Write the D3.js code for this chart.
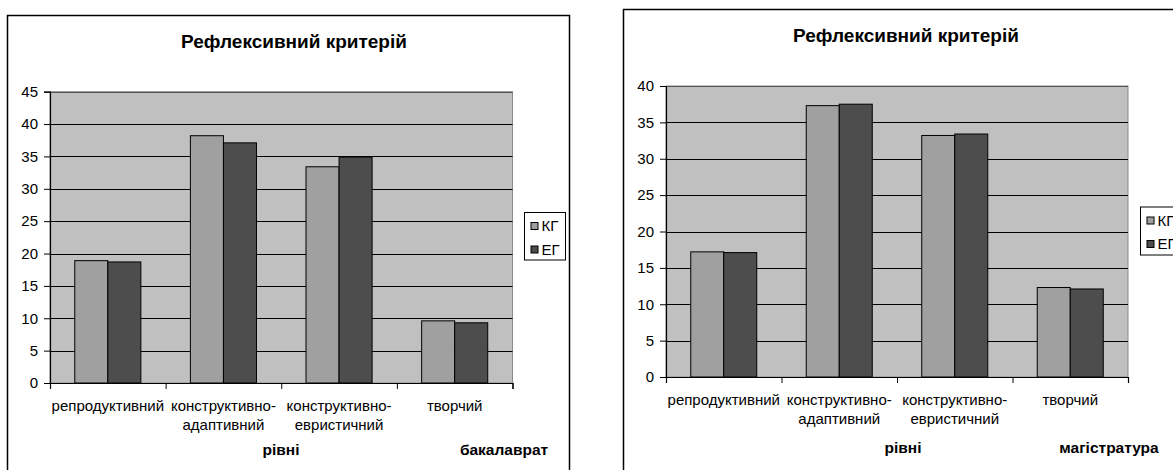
<!DOCTYPE html>
<html>
<head>
<meta charset="utf-8">
<script src="https://cdn.jsdelivr.net/npm/d3@7"></script>
<style>
  html, body { margin: 0; padding: 0; background: #fff; }
  svg { display: block; font-family: "Liberation Sans", Arial, sans-serif; }
</style>
</head>
<body>
<svg id="chart" width="1173" height="470"></svg>
<script>
// Category labels (line breaks as in the axis), series and tick values
const categories = [
  ["репродуктивний"],
  ["конструктивно-", "адаптивний"],
  ["конструктивно-", "евристичний"],
  ["творчий"]
];
const seriesNames = ["КГ", "ЕГ"];
const kgBachelor = [18.9, 38.2, 33.4, 9.6];
const egBachelor = [18.7, 37.1, 34.9, 9.3];
const kgMaster = [17.2, 37.3, 33.2, 12.3];
const egMaster = [17.1, 37.5, 33.4, 12.1];
const yTicksBachelor = [0, 5, 10, 15, 20, 25, 30, 35, 40, 45];
const yTicksMaster = [0, 5, 10, 15, 20, 25, 30, 35, 40];
const chartTitle = "Рефлексивний критерій";
const axisTitle = "рівні";
const groupTitles = ["бакалаврат", "магістратура"];

const seriesColors = ["#a0a0a0", "#4d4d4d"];

const svg = d3.select("#chart");

function drawChart(cfg) {
  const g = svg.append("g");

  // outer chart frame
  g.append("rect")
    .attr("x", cfg.frame.x).attr("y", cfg.frame.y)
    .attr("width", cfg.frame.w).attr("height", cfg.frame.h)
    .attr("fill", "#fff").attr("stroke", "#000").attr("stroke-width", 1.5);

  const p = cfg.plot;
  const yTicks = cfg.yTicks;
  const y = d3.scaleLinear().domain([0, d3.max(yTicks)]).range([p.bottom, p.top]);
  const x = d3.scaleBand().domain(d3.range(categories.length)).range([p.left, p.right]);
  const bw = x.bandwidth() / 3.5;
  const xs = d3.scaleBand().domain(seriesNames).range([0, 2 * bw]);

  // plot area
  g.append("rect")
    .attr("x", p.left).attr("y", p.top)
    .attr("width", p.right - p.left).attr("height", p.bottom - p.top)
    .attr("fill", "#c0c0c0").attr("stroke", "#8a8a8a").attr("stroke-width", 1);

  // horizontal gridlines
  g.append("g").selectAll("line")
    .data(yTicks.filter(t => t > 0))
    .join("line")
    .attr("x1", p.left).attr("x2", p.right)
    .attr("y1", d => Math.round(y(d)) + 0.5).attr("y2", d => Math.round(y(d)) + 0.5)
    .attr("stroke", d => d === d3.max(yTicks) ? "#555" : "#000")
    .attr("stroke-width", 1.2);

  // bars
  const series = [cfg.kg, cfg.eg];
  series.forEach((vals, si) => {
    g.append("g").selectAll("rect")
      .data(vals)
      .join("rect")
      .attr("x", (d, i) => x(i) + x.bandwidth() / 2 - bw + xs(seriesNames[si]))
      .attr("y", d => y(d))
      .attr("width", bw)
      .attr("height", d => y(0) - y(d))
      .attr("fill", seriesColors[si])
      .attr("stroke", "#000").attr("stroke-width", 1);
  });

  // y axis
  const yAxis = g.append("g")
    .attr("transform", `translate(${p.left},0)`)
    .call(d3.axisLeft(y).tickValues(yTicks).tickSize(6).tickPadding(6));
  yAxis.select(".domain").attr("stroke", "#000").attr("stroke-width", 1.2);
  yAxis.selectAll(".tick line").attr("stroke", "#000");
  yAxis.selectAll(".tick text")
    .attr("font-size", 15).attr("fill", "#000")
    .attr("font-family", "Liberation Sans, Arial, sans-serif");

  // x axis: tick marks at category boundaries
  const xb = d3.scaleLinear().domain([0, categories.length]).range([p.left, p.right]);
  const xAxis = g.append("g")
    .attr("transform", `translate(0,${p.bottom})`)
    .call(d3.axisBottom(xb).tickValues(d3.range(categories.length + 1)).tickFormat("").tickSize(6).tickSizeOuter(6));
  xAxis.select(".domain").attr("stroke", "#000").attr("stroke-width", 1.2);
  xAxis.selectAll(".tick line").attr("stroke", "#000");

  // category labels
  const lab = g.append("g").selectAll("text")
    .data(categories)
    .join("text")
    .attr("text-anchor", "middle")
    .attr("font-size", 15)
    .attr("fill", "#000");
  lab.selectAll("tspan")
    .data((d, i) => d.map(line => ({ line, i })))
    .join("tspan")
    .attr("x", d => x(d.i) + x.bandwidth() / 2)
    .attr("y", (d, j) => p.bottom + 27.5 + j * 19.5)
    .text(d => d.line);

  // titles
  g.append("text")
    .attr("x", cfg.title.x).attr("y", cfg.title.y)
    .attr("text-anchor", "middle")
    .attr("font-size", 19).attr("font-weight", "bold")
    .text(chartTitle);
  g.append("text")
    .attr("x", cfg.axisTitle.x).attr("y", cfg.axisTitle.y)
    .attr("text-anchor", "middle")
    .attr("font-size", 15.5).attr("font-weight", "bold")
    .text(axisTitle);
  g.append("text")
    .attr("x", cfg.groupTitle.x).attr("y", cfg.groupTitle.y)
    .attr("text-anchor", "middle")
    .attr("font-size", 15.5).attr("font-weight", "bold")
    .text(cfg.groupName);

  // legend
  const L = cfg.legend;
  const lg = g.append("g").attr("transform", `translate(${L.x},${L.y})`);
  lg.append("rect")
    .attr("width", L.w).attr("height", L.h)
    .attr("fill", "#fff").attr("stroke", "#000").attr("stroke-width", 1);
  const item = lg.selectAll("g.item")
    .data(seriesNames)
    .join("g")
    .attr("class", "item")
    .attr("transform", (d, i) => `translate(6,${13.5 + i * 23.5})`);
  item.append("rect")
    .attr("x", 0.5).attr("y", -3.5)
    .attr("width", 7).attr("height", 7)
    .attr("fill", (d, i) => seriesColors[i])
    .attr("stroke", "#000").attr("stroke-width", 1);
  item.append("text")
    .attr("x", 11).attr("dy", "0.36em")
    .attr("font-size", 15)
    .text(d => d);
}

drawChart({
  frame: { x: 7.5, y: 15.5, w: 562, h: 470 },
  plot: { left: 50, right: 512.5, top: 91.7, bottom: 383 },
  yTicks: yTicksBachelor,
  kg: kgBachelor, eg: egBachelor,
  title: { x: 294, y: 48 },
  axisTitle: { x: 281, y: 455 },
  groupTitle: { x: 504, y: 455 },
  groupName: groupTitles[0],
  legend: { x: 524.5, y: 212.5, w: 41, h: 47.5 }
});

drawChart({
  frame: { x: 623.5, y: 9.5, w: 600, h: 470 },
  plot: { left: 666, right: 1128, top: 86, bottom: 377 },
  yTicks: yTicksMaster,
  kg: kgMaster, eg: egMaster,
  title: { x: 906, y: 42 },
  axisTitle: { x: 903, y: 453 },
  groupTitle: { x: 1109, y: 453 },
  groupName: groupTitles[1],
  legend: { x: 1140.5, y: 207, w: 41, h: 48 }
});
</script>
</body>
</html>
